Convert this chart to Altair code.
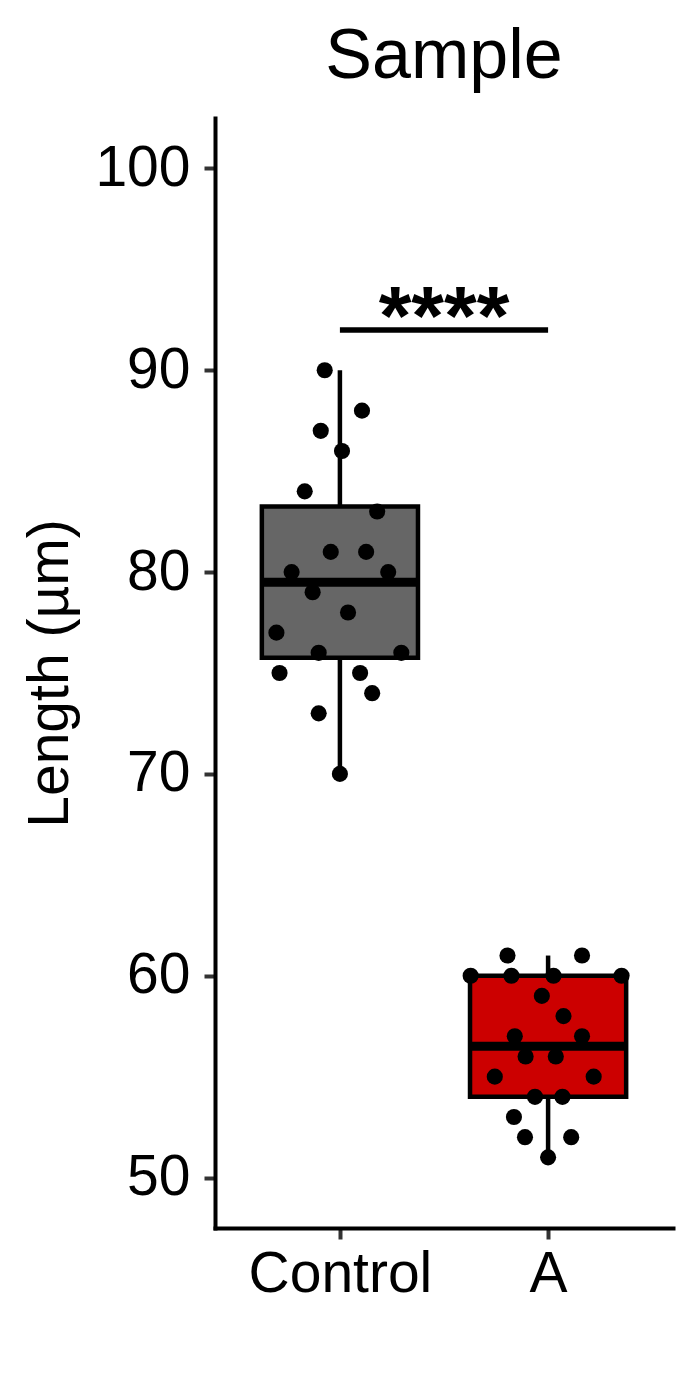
import altair as alt
import pandas as pd

categories = ["Control", "A"]
colors = ["#666666", "#CC0000"]

control_values = [90, 88, 87, 86, 84, 83, 81, 81, 80, 80, 79, 78, 77, 76, 76, 75, 75, 74, 73, 70]
control_jitter = [-0.073, 0.106, -0.092, 0.010, -0.169, 0.179, -0.044, 0.126, -0.232, 0.232,
                  -0.131, 0.039, -0.305, -0.102, 0.295, -0.290, 0.097, 0.155, -0.102, 0.0]
a_values = [61, 61, 60, 60, 60, 60, 59, 58, 57, 57, 56, 56, 55, 55, 54, 54, 53, 52, 52, 51]
a_jitter = [-0.195, 0.163, -0.372, -0.176, 0.026, 0.353, -0.030, 0.074, -0.160, 0.163,
            -0.108, 0.037, -0.256, 0.219, -0.063, 0.069, -0.164, -0.111, 0.111, 0.0]

y_ticks = [50, 60, 70, 80, 90, 100]
sig_label = ["****"]
sig_y = [92]
sig_from = [1]
sig_to = [2]

rows = []
for i, (vals, jit) in enumerate([(control_values, control_jitter), (a_values, a_jitter)]):
    for v, j in zip(vals, jit):
        rows.append({"group": categories[i], "idx": i + 1, "value": v, "xpos": i + 1 + j})
df = pd.DataFrame(rows)

sig_df = pd.DataFrame({"x1": sig_from, "x2": sig_to, "y": sig_y, "label": sig_label})

FONT = "Liberation Sans"
label_expr = " : ".join(
    [f"datum.value == {i + 1} ? '{c}'" for i, c in enumerate(categories)]
) + " : ''"

xscale = alt.Scale(domain=[0.4, 2.6], nice=False, zero=False)
yscale = alt.Scale(domain=[47.5, 102.5], nice=False, zero=False)

x_axis = alt.Axis(values=[1, 2], labelExpr=label_expr, title=None, grid=False, labelLimit=0)
y_axis = alt.Axis(values=y_ticks, title="Length (µm)", grid=False)

base = alt.Chart(df)

stats = (
    base.transform_joinaggregate(
        q1="q1(value)", med="median(value)", q3="q3(value)", groupby=["group", "idx"]
    )
    .transform_filter(
        "datum.value >= datum.q1 - 1.5*(datum.q3-datum.q1) && datum.value <= datum.q3 + 1.5*(datum.q3-datum.q1)"
    )
    .transform_aggregate(
        wlo="min(value)", whi="max(value)", groupby=["group", "idx", "q1", "med", "q3"]
    )
    .transform_calculate(xl="datum.idx - 0.375", xr="datum.idx + 0.375")
)

whisk_lo = stats.mark_rule(color="black", strokeWidth=4.5).encode(
    x=alt.X("idx:Q", scale=xscale, axis=x_axis),
    y=alt.Y("wlo:Q", scale=yscale, axis=y_axis),
    y2="q1:Q",
)
whisk_hi = stats.mark_rule(color="black", strokeWidth=4.5).encode(
    x=alt.X("idx:Q", scale=xscale),
    y=alt.Y("q3:Q", scale=yscale),
    y2="whi:Q",
)
box = stats.mark_rect(stroke="black", strokeWidth=4.5).encode(
    x=alt.X("xl:Q", scale=xscale),
    x2="xr:Q",
    y=alt.Y("q1:Q", scale=yscale),
    y2="q3:Q",
    fill=alt.Fill("group:N", scale=alt.Scale(domain=categories, range=colors), legend=None),
)
median = stats.mark_rule(color="black", strokeWidth=9).encode(
    x=alt.X("xl:Q", scale=xscale),
    x2="xr:Q",
    y=alt.Y("med:Q", scale=yscale),
)
points = base.mark_circle(size=260, color="black", opacity=1).encode(
    x=alt.X("xpos:Q", scale=xscale),
    y=alt.Y("value:Q", scale=yscale),
)

sig = alt.Chart(sig_df)
sig_line = sig.mark_rule(color="black", strokeWidth=5.5).encode(
    x=alt.X("x1:Q", scale=xscale),
    x2="x2:Q",
    y=alt.Y("y:Q", scale=yscale),
)
sig_text = sig.transform_calculate(xm="(datum.x1 + datum.x2) / 2").mark_text(
    font=FONT, fontSize=84, fontWeight="bold", baseline="alphabetic", dy=15, color="black"
).encode(
    x=alt.X("xm:Q", scale=xscale),
    y=alt.Y("y:Q", scale=yscale),
    text="label:N",
)

chart = (
    alt.layer(whisk_lo, whisk_hi, box, median, points, sig_line, sig_text)
    .properties(
        width=458,
        height=1110,
        autosize=alt.AutoSizeParams(type="none"),
        padding={"left": 207, "top": 110, "right": 19, "bottom": 150},
        title=alt.TitleParams(
            "Sample", font=FONT, fontSize=70, fontWeight="normal", color="black",
            anchor="middle", baseline="top", offset=25,
        ),
    )
    .configure_view(stroke=None)
    .configure_axis(
        domainColor="black",
        domainWidth=4,
        domainCap="square",
        tickColor="#333333",
        tickWidth=4,
        tickSize=11,
        labelFont=FONT,
        labelFontSize=57,
        labelColor="black",
        titleFont=FONT,
        titleFontSize=57,
        titleFontWeight="normal",
        titleColor="black",
    )
    .configure_axisY(labelPadding=14, titlePadding=15)
    .configure_axisX(labelPadding=7)
)

chart.save("out.html", embed_options={"renderer": "svg", "actions": False})
